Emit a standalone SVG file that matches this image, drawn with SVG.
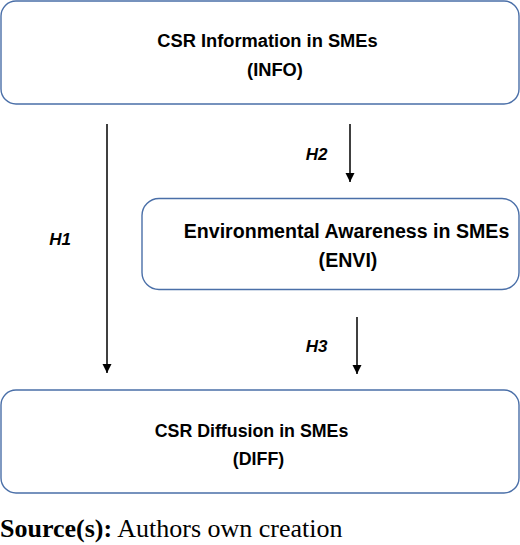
<svg xmlns="http://www.w3.org/2000/svg" width="520" height="545" viewBox="0 0 520 545">
<style>
.box{fill:#ffffff;stroke:#4a6fa8;stroke-width:1.4}
.lbl{font-family:"Liberation Sans",Arial,sans-serif;font-weight:bold;fill:#000;text-anchor:middle}
.h{font-family:"Liberation Sans",Arial,sans-serif;font-weight:bold;font-style:italic;font-size:17px;fill:#000;text-anchor:middle}
.conn{stroke:#000;stroke-width:1.5;fill:none}
.src{font-family:"Liberation Serif","Times New Roman",serif;font-size:26px;fill:#000}
</style>
<defs>
<marker id="ah" markerUnits="userSpaceOnUse" markerWidth="10" markerHeight="10" refX="9" refY="4.5" orient="auto">
<path d="M0,0 L9,4.5 L0,9 z" fill="#000"/>
</marker>
</defs>
<rect width="520" height="545" fill="#ffffff"/>
<g id="info">
<rect class="box" x="1" y="1" width="518" height="103" rx="15"/>
<text class="lbl" x="267.5" y="47" font-size="18.3">CSR Information in SMEs</text>
<text class="lbl" x="275" y="76" font-size="18.3">(INFO)</text>
</g>
<g id="envi">
<rect class="box" x="142" y="198.5" width="377" height="91" rx="17"/>
<text class="lbl" x="346.5" y="238" font-size="19.6">Environmental Awareness in SMEs</text>
<text class="lbl" x="348" y="267" font-size="19.6">(ENVI)</text>
</g>
<g id="diff">
<rect class="box" x="1" y="390" width="518" height="103" rx="15"/>
<text class="lbl" x="251.5" y="437" font-size="17.8">CSR Diffusion in SMEs</text>
<text class="lbl" x="258.5" y="465" font-size="17.8">(DIFF)</text>
</g>
<g id="connectors">
<line class="conn" x1="107" y1="124" x2="107" y2="373" marker-end="url(#ah)"/>
<line class="conn" x1="350" y1="124" x2="350" y2="182" marker-end="url(#ah)"/>
<line class="conn" x1="357" y1="317" x2="357" y2="374" marker-end="url(#ah)"/>
<text class="h" x="60" y="245">H1</text>
<text class="h" x="316.5" y="160">H2</text>
<text class="h" x="316.5" y="352">H3</text>
</g>
<text class="src" x="0" y="537"><tspan font-weight="bold">Source(s):</tspan> Authors own creation</text>
</svg>
